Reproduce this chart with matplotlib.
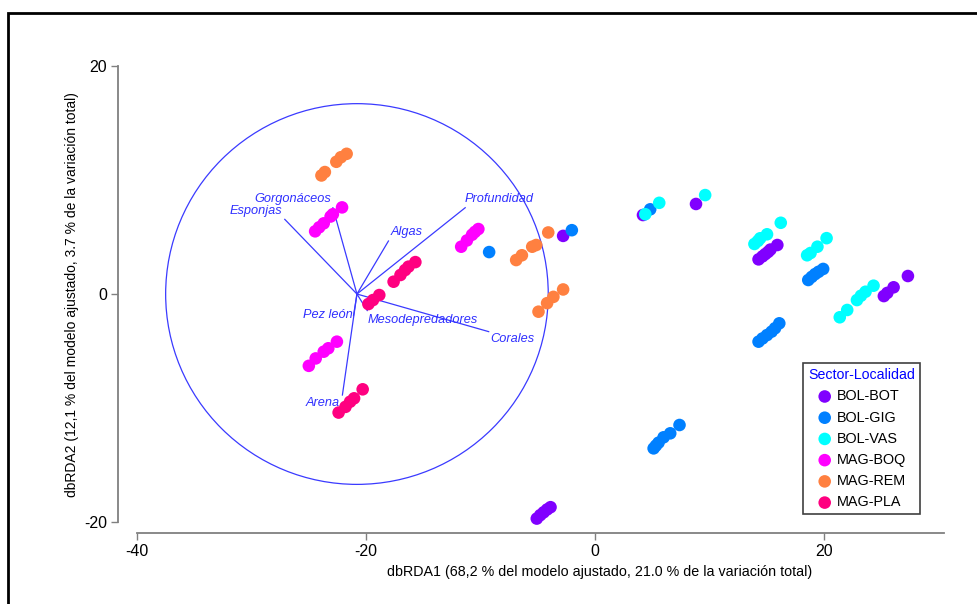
import matplotlib
matplotlib.use("Agg")
import matplotlib.pyplot as plt
from matplotlib.patches import Circle, Rectangle

# Puntos por sector-localidad (coordenadas dbRDA1, dbRDA2)
bot_x = [-5.1, -4.8, -4.5, -4.2, -3.9, -2.8, 4.17, 8.8,
         14.26, 14.6, 14.85, 15.1, 15.3, 15.9, 25.2, 25.5, 26.05, 27.3]
bot_y = [-19.7, -19.4, -19.15, -18.9, -18.7, 5.1, 6.93, 7.9,
         3.04, 3.3, 3.5, 3.7, 3.9, 4.3, -0.18, 0.1, 0.59, 1.58]

gig_x = [-9.26, -2.04, 4.8, 18.6, 18.9, 19.2, 19.5, 19.9,
         14.26, 14.6, 15.0, 15.4, 15.7, 16.07, 5.1, 5.3, 5.53, 5.97, 6.55, 7.36]
gig_y = [3.68, 5.6, 7.43, 1.23, 1.5, 1.75, 1.95, 2.2,
         -4.18, -3.9, -3.6, -3.3, -3.0, -2.57, -13.54, -13.3, -13.04, -12.57, -12.22, -11.49]

vas_x = [4.37, 5.59, 9.6, 13.9, 14.2, 14.4, 15.0, 16.2, 18.5, 18.8, 19.4, 20.2,
         21.35, 22.0, 22.85, 23.2, 23.6, 24.3]
vas_y = [7.0, 8.0, 8.68, 4.39, 4.65, 4.89, 5.24, 6.25, 3.4, 3.6, 4.15, 4.9,
         -2.04, -1.4, -0.53, -0.15, 0.2, 0.73]

boq_x = [-24.45, -24.1, -23.7, -23.1, -22.9, -22.1, -11.7, -11.2, -10.75, -10.5, -10.2,
         -25.0, -24.4, -23.7, -23.3, -22.55]
boq_y = [5.5, 5.85, 6.2, 6.8, 7.0, 7.6, 4.15, 4.7, 5.2, 5.45, 5.7,
         -6.3, -5.65, -5.06, -4.76, -4.18]

rem_x = [-23.9, -23.6, -22.6, -22.2, -21.7, -6.9, -6.4, -5.5, -5.15, -4.1,
         -4.95, -4.2, -3.65, -2.8]
rem_y = [10.4, 10.7, 11.6, 12.0, 12.3, 2.98, 3.4, 4.15, 4.3, 5.4,
         -1.55, -0.8, -0.25, 0.4]

pla_x = [-17.6, -17.0, -16.6, -16.3, -15.7, -19.8, -19.4, -18.85,
         -22.4, -21.8, -21.4, -21.05, -20.3]
pla_y = [1.08, 1.67, 2.1, 2.4, 2.8, -0.88, -0.53, -0.09,
         -10.4, -9.9, -9.45, -9.15, -8.36]

grupos = ["BOL-BOT", "BOL-GIG", "BOL-VAS", "MAG-BOQ", "MAG-REM", "MAG-PLA"]
colores = ["#8000FF", "#0080FF", "#00FFFF", "#FF00FF", "#FF8040", "#FF0080"]

# Vectores de correlacion (origen en el centro del circulo)
origen = (-20.8, 0.0)
radio = 16.7
var_nombres = ["Esponjas", "Gorgonáceos", "Algas", "Profundidad",
               "Pez león", "Mesodepredadores", "Corales", "Arena"]
var_x = [-27.1, -22.9, -18.05, -11.35, -21.1, -19.9, -9.3, -22.07]
var_y = [6.55, 7.57, 4.65, 7.57, -1.9, -1.45, -3.3, -8.86]
etiq_x = [-27.3, -26.4, -16.5, -8.35, -21.2, -15.1, -7.25, -23.75]
etiq_y = [7.3, 8.36, 5.4, 8.36, -1.8, -2.3, -3.95, -9.55]
etiq_ha = ["right", "center", "center", "center", "right", "center", "center", "center"]

fig = plt.figure(figsize=(9.77, 6.04), dpi=100)
ax = fig.add_axes([118 / 977, 1 - 533 / 604, 826 / 977, 473 / 604])

series = [(bot_x, bot_y), (gig_x, gig_y), (vas_x, vas_y),
          (boq_x, boq_y), (rem_x, rem_y), (pla_x, pla_y)]
for (sx, sy), nombre, c in zip(series, grupos, colores):
    ax.scatter(sx, sy, s=82, color=c, edgecolors="none", label=nombre, zorder=3)

azul = "#3a3aff"
ax.add_patch(Circle(origen, radio, fill=False, edgecolor=azul, lw=0.9, zorder=2))
for vx, vy in zip(var_x, var_y):
    ax.plot([origen[0], vx], [origen[1], vy], color=azul, lw=0.9, zorder=2)
for nombre, tx, ty, ha in zip(var_nombres, etiq_x, etiq_y, etiq_ha):
    ax.text(tx, ty, nombre, color="#3030ff", fontsize=9.2, style="italic",
            ha=ha, va="center", family=["Liberation Sans", "DejaVu Sans"], zorder=4)

ax.set_xlim(-41.66, 30.45)
ax.set_ylim(-20.965, 20.53)
ax.set_xticks([-40, -20, 0, 20])
ax.set_yticks([-20, 0, 20])
ax.set_xticklabels(["-40", "-20", "0", "20"])
ax.set_yticklabels(["-20", "0", "20"])

for lado in ["top", "right"]:
    ax.spines[lado].set_visible(False)
ax.spines["left"].set_bounds(-20, 20)
ax.spines["bottom"].set_bounds(-40, 30.45)
for lado in ["left", "bottom"]:
    ax.spines[lado].set_color("#808080")
    ax.spines[lado].set_linewidth(1.3)
ax.tick_params(direction="out", length=5, width=1, color="#808080",
               labelsize=11.5, pad=3)
for lbl in ax.get_xticklabels() + ax.get_yticklabels():
    lbl.set_family(["Liberation Sans", "DejaVu Sans"])

fig.text(600 / 977, 1 - 572 / 604,
         "dbRDA1 (68,2 % del modelo ajustado, 21.0 % de la variación total)",
         ha="center", va="center", fontsize=10.3,
         family=["Liberation Sans Narrow", "Liberation Sans", "DejaVu Sans"])
fig.text(72 / 977, 1 - 295 / 604,
         "dbRDA2 (12,1 % del modelo ajustado, 3.7 % de la variación total)",
         ha="center", va="center", rotation=90, fontsize=10,
         family=["Liberation Sans", "DejaVu Sans"])

leg = ax.legend(title="Sector-Localidad", loc="upper left",
                bbox_to_anchor=(803 / 977, 1 - 363 / 604),
                bbox_transform=fig.transFigure, borderaxespad=0,
                fancybox=False, edgecolor="#404040", framealpha=1,
                title_fontsize=10.2, markerscale=1.0,
                handletextpad=0.3, handlelength=1.1, borderpad=0.35,
                labelspacing=0.5, prop={"family": "Liberation Sans", "size": 10.4})
leg.get_title().set_color("#0000ff")
leg.get_title().set_family(["Liberation Sans", "DejaVu Sans"])
leg.get_frame().set_linewidth(1.2)

# Marco negro de la figura
fig.patches.append(Rectangle((8 / 977, -0.1), 1.2, 1.1 - 13 / 604,
                             transform=fig.transFigure, fill=False,
                             edgecolor="black", lw=2))

fig.savefig("out.png", dpi=100)
